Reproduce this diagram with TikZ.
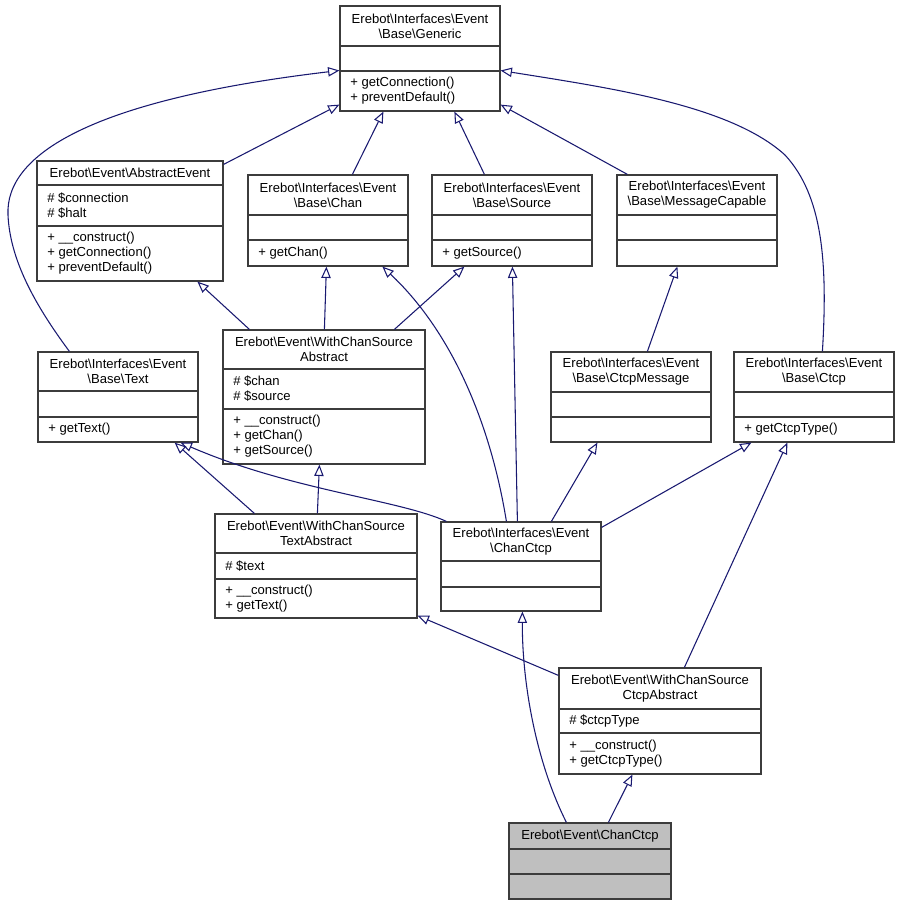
\documentclass[tikz,border=0pt]{standalone}
\usepackage{fontspec}
\setmainfont{Liberation Sans}
\usepackage{xcolor}
\usepackage{tikz}
\usetikzlibrary{arrows.meta, positioning, fit, calc}
\definecolor{edgeblue}{RGB}{25,25,112}
\definecolor{boxgray}{RGB}{191,191,191}
\definecolor{framegray}{RGB}{60,60,60}

\newcommand{\bsl}{\textbackslash}
% #1 name, #2 fill, #3 left, #4 right, #5 top, #6 first rule, #7 second rule, #8 bottom, #9 title
\newcommand{\umlclass}[9]{%
  \node[classbox, fill=#2, fit={(#3,#5) (#4,#8)}] (#1) {};
  \draw[classrule] (#3,#6) -- (#4,#6) (#3,#7) -- (#4,#7);
  \node[titletext] (#1-title) at ({(#3+#4)/2},{(#5+#6)/2}) {#9};
  \coordinate (#1-a) at (#3,{(#6+#7)/2});
  \coordinate (#1-m) at (#3,{(#7+#8)/2});
}

\begin{document}
\begin{tikzpicture}[x=0.75pt, y=-0.75pt,
    every node/.style={font=\fontsize{9.8}{11.25}\selectfont},
    classbox/.style={draw=framegray, line width=0.9pt, inner sep=0pt},
    classrule/.style={draw=framegray, line width=0.9pt},
    titletext/.style={align=center, inner sep=0pt},
    membertext/.style={align=left, anchor=west, inner xsep=7.5pt, inner ysep=0pt},
    inherit/.style={draw=edgeblue, line width=0.8pt, -{Triangle[open, length=8.5pt, width=7pt]}}]
  \useasboundingbox (0,0) rectangle (900,905);

  % classes
  \umlclass{generic}{white}{340}{500}{6}{46}{71}{111}{Erebot\bsl Interfaces\bsl Event\\\bsl Base\bsl Generic}
  \node[membertext] (generic-meth) at (generic-m) {+ getConnection()\\+ preventDefault()};

  \umlclass{abstractevent}{white}{37}{223}{161}{185}{226}{281}{Erebot\bsl Event\bsl AbstractEvent}
  \node[membertext] (abstractevent-attr) at (abstractevent-a) {\# \$connection\\\# \$halt};
  \node[membertext] (abstractevent-meth) at (abstractevent-m) {+ \_\_construct()\\+ getConnection()\\+ preventDefault()};

  \umlclass{chan}{white}{248}{408}{175}{215}{240}{266}{Erebot\bsl Interfaces\bsl Event\\\bsl Base\bsl Chan}
  \node[membertext] (chan-meth) at (chan-m) {+ getChan()};

  \umlclass{source}{white}{432}{592}{175}{215}{240}{266}{Erebot\bsl Interfaces\bsl Event\\\bsl Base\bsl Source}
  \node[membertext] (source-meth) at (source-m) {+ getSource()};

  \umlclass{msgcap}{white}{617}{777}{175}{215}{240}{266}{Erebot\bsl Interfaces\bsl Event\\\bsl Base\bsl MessageCapable}

  \umlclass{text}{white}{38}{198}{352}{391}{417}{442}{Erebot\bsl Interfaces\bsl Event\\\bsl Base\bsl Text}
  \node[membertext] (text-meth) at (text-m) {+ getText()};

  \umlclass{wcsa}{white}{223}{425}{330}{369}{409}{464}{Erebot\bsl Event\bsl WithChanSource\\Abstract}
  \node[membertext] (wcsa-attr) at (wcsa-a) {\# \$chan\\\# \$source};
  \node[membertext] (wcsa-meth) at (wcsa-m) {+ \_\_construct()\\+ getChan()\\+ getSource()};

  \umlclass{ctcpmsg}{white}{551}{711}{352}{392}{417}{442}{Erebot\bsl Interfaces\bsl Event\\\bsl Base\bsl CtcpMessage}

  \umlclass{ctcp}{white}{734}{894}{352}{392}{417}{442}{Erebot\bsl Interfaces\bsl Event\\\bsl Base\bsl Ctcp}
  \node[membertext] (ctcp-meth) at (ctcp-m) {+ getCtcpType()};

  \umlclass{wcsta}{white}{215}{417}{514}{553}{579}{618}{Erebot\bsl Event\bsl WithChanSource\\TextAbstract}
  \node[membertext] (wcsta-attr) at (wcsta-a) {\# \$text};
  \node[membertext] (wcsta-meth) at (wcsta-m) {+ \_\_construct()\\+ getText()};

  \umlclass{ichanctcp}{white}{441}{601}{522}{561}{587}{611}{Erebot\bsl Interfaces\bsl Event\\\bsl ChanCtcp}

  \umlclass{ctcpabs}{white}{559}{761}{668}{709}{733}{774}{Erebot\bsl Event\bsl WithChanSource\\CtcpAbstract}
  \node[membertext] (ctcpabs-attr) at (ctcpabs-a) {\# \$ctcpType};
  \node[membertext] (ctcpabs-meth) at (ctcpabs-m) {+ \_\_construct()\\+ getCtcpType()};

  \umlclass{chanctcp}{boxgray}{509}{671}{823}{849}{874}{899}{Erebot\bsl Event\bsl ChanCtcp}

  % inheritance
  \draw[inherit] ($(abstractevent.north east)+(0,4)$) -- ($(generic.south west)+(0,-7)$);
  \draw[inherit] ($(chan.north west)+(105,0)$) -- ($(generic.south west)+(44,0)$);
  \draw[inherit] ($(source.north west)+(53,0)$) -- ($(generic.south west)+(115,0)$);
  \draw[inherit] ($(msgcap.north west)+(11,0)$) -- ($(generic.south east)+(0,-7)$);
  \draw[inherit] ($(text.north west)+(32,0)$) .. controls (35,305) and (10,260) .. (8,215)
    .. controls (5,155) and (90,100) .. ($(generic.west)+(0,12)$);
  \draw[inherit] ($(ctcp.north west)+(89,0)$) .. controls (828,260) and (822,195) .. (785,155)
    .. controls (730,105) and (610,88) .. ($(generic.east)+(0,12)$);

  \draw[inherit] ($(wcsa.north west)+(27,0)$) -- ($(abstractevent.south west)+(161,0)$);
  \draw[inherit] ($(wcsa.north west)+(102,0)$) -- ($(chan.south west)+(79,0)$);
  \draw[inherit] ($(wcsa.north west)+(172,0)$) -- ($(source.south west)+(33,0)$);
  \draw[inherit] ($(ctcpmsg.north west)+(97,0)$) -- ($(msgcap.south west)+(61,0)$);

  \draw[inherit] ($(wcsta.north west)+(40,0)$) -- ($(text.south east)+(-24,0)$);
  \draw[inherit] ($(wcsta.north west)+(103,0)$) -- ($(wcsa.south west)+(97,0)$);

  \draw[inherit] ($(ichanctcp.north west)+(6,0)$) .. controls (400,500) and (290,490) .. ($(text.south east)+(-18,0)$);
  \draw[inherit] ($(ichanctcp.north west)+(66,0)$) .. controls (490,420) and (450,330) .. ($(chan.south west)+(135,0)$);
  \draw[inherit] ($(ichanctcp.north west)+(77,0)$) -- ($(source.south west)+(81,0)$);
  \draw[inherit] ($(ichanctcp.north west)+(111,0)$) -- ($(ctcpmsg.south west)+(47,0)$);
  \draw[inherit] ($(ichanctcp.north east)+(0,6)$) -- ($(ctcp.south west)+(18,0)$);

  \draw[inherit] ($(ctcpabs.north west)+(126,0)$) -- ($(ctcp.south west)+(54,0)$);
  \draw[inherit] ($(ctcpabs.north west)+(0,8)$) -- ($(wcsta.south east)+(0,-3)$);

  \draw[inherit] ($(chanctcp.north west)+(58,0)$) .. controls (535,760) and (522,680) .. ($(ichanctcp.south west)+(82,0)$);
  \draw[inherit] ($(chanctcp.north west)+(100,0)$) -- ($(ctcpabs.south west)+(74,0)$);
\end{tikzpicture}
\end{document}
